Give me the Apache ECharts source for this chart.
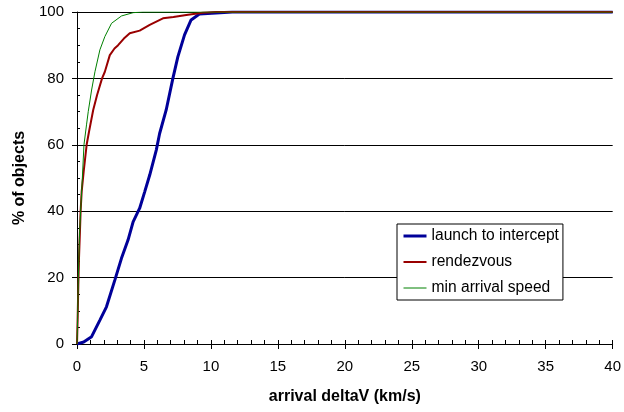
<!DOCTYPE html>
<html><head><meta charset="utf-8">
<script src="https://cdn.jsdelivr.net/npm/echarts@6/dist/echarts.min.js"></script>
<style>html,body{margin:0;padding:0;background:#fff}#c{width:624px;height:412px}</style>
</head><body><div id="c"></div>
<script>
const seriesNames = ['launch to intercept', 'rendezvous', 'min arrival speed'];
const launchX = [0, 0.1, 0.5, 1.09, 1.71, 2.2, 2.83, 3.32, 3.81, 4.19, 4.68, 5.06, 5.43, 5.92, 6.17, 6.66, 7.16, 7.53, 8.03, 8.52, 9.14, 10.38, 11.6, 40];
const launchY = [0, 0.2, 0.6, 2.2, 7.2, 11.2, 19.3, 25.8, 31.3, 36.8, 40.9, 45.9, 50.9, 58.4, 63.4, 70.5, 80, 86.5, 93.1, 97.6, 99.4, 99.7, 100, 100];
const rendX = [0, 0.05, 0.1, 0.15, 0.22, 0.27, 0.35, 0.5, 0.72, 0.9, 1.21, 1.5, 1.87, 2.08, 2.45, 2.8, 3.07, 3.5, 3.94, 4.68, 5.43, 6.42, 7.2, 8.16, 9.39, 10.4, 40];
const rendY = [0, 8, 18, 26, 34, 40, 46, 52, 60, 64, 70.5, 75, 80, 82, 87, 89, 90, 92, 93.6, 94.4, 96.1, 98.1, 98.5, 99.1, 99.8, 100, 100];
const minX = [0, 0.05, 0.1, 0.18, 0.27, 0.4, 0.52, 0.71, 0.84, 1.09, 1.34, 1.71, 2.08, 2.58, 3.32, 4.19, 4.9, 40];
const minY = [0, 8, 20, 32, 40, 50, 60, 66, 70, 76.5, 82, 88.6, 92.6, 96.6, 98.8, 99.8, 100, 100];
const xTitle = 'arrival deltaV (km/s)';
const yTitle = '% of objects';

const colors = ['#000099', '#990000', '#008000'];
const widths = [3, 2, 1];
const pair = (xs, ys) => xs.map((x, i) => [x, ys[i]]);
const font = 'Liberation Sans, Arial, sans-serif';
const chart = echarts.init(document.getElementById('c'), null, {renderer: 'canvas'});
chart.setOption({
  animation: false,
  backgroundColor: '#fff',
  grid: {left: 77, right: 9, top: 12, bottom: 68, containLabel: false},
  legend: {
    orient: 'vertical', left: 397, top: 224,
    backgroundColor: '#fff', borderColor: '#000', borderWidth: 1,
    padding: [4, 4, 4, 5], itemGap: 10, itemWidth: 23, itemHeight: 16,
    itemStyle: {opacity: 0},
    textStyle: {fontFamily: font, fontSize: 15.6, color: '#000', lineHeight: 16},
    data: seriesNames.map((n, i) => ({name: n, lineStyle: {color: colors[i], width: widths[i]}}))
  },
  xAxis: [{
    type: 'value', min: 0, max: 40, interval: 5, position: 'bottom',
    name: xTitle, nameLocation: 'middle', nameGap: 45,
    nameTextStyle: {fontFamily: font, fontSize: 16, fontWeight: 'bold', color: '#000'},
    axisLine: {lineStyle: {color: '#000', width: 1}},
    axisTick: {show: true, length: 5, lineStyle: {color: '#000'}},
    axisLabel: {fontFamily: font, fontSize: 15, color: '#000', margin: 15},
    splitLine: {show: false}
  }, {
    type: 'value', min: 0, max: 40, interval: 5, position: 'bottom',
    axisLine: {show: false},
    axisTick: {show: true, inside: true, length: 4, lineStyle: {color: '#000'}},
    minorTick: {show: true, splitNumber: 5, length: 4, lineStyle: {color: '#000'}},
    axisLabel: {show: false}, splitLine: {show: false}
  }],
  yAxis: [{
    type: 'value', min: 0, max: 100, interval: 20, position: 'left',
    name: yTitle, nameLocation: 'middle', nameGap: 49,
    nameTextStyle: {fontFamily: font, fontSize: 16, fontWeight: 'bold', color: '#000'},
    axisLine: {show: true, lineStyle: {color: '#000', width: 1}},
    axisTick: {show: true, length: 5, lineStyle: {color: '#000'}},
    axisLabel: {fontFamily: font, fontSize: 15, color: '#000', margin: 13},
    splitLine: {show: true, lineStyle: {color: '#000', width: 1}}
  }, {
    type: 'value', min: 0, max: 100, interval: 20, position: 'left',
    axisLine: {show: false},
    axisTick: {show: true, inside: true, length: 3, lineStyle: {color: '#000'}},
    minorTick: {show: true, splitNumber: 4, length: 3, lineStyle: {color: '#000'}},
    axisLabel: {show: false}, splitLine: {show: false}
  }],
  series: [
    {name: seriesNames[0], type: 'line', xAxisIndex: 0, yAxisIndex: 0, symbol: 'none', z: 3,
     lineStyle: {color: colors[0], width: widths[0]}, itemStyle: {color: colors[0]}, data: pair(launchX, launchY)},
    {name: seriesNames[1], type: 'line', xAxisIndex: 0, yAxisIndex: 0, symbol: 'none', z: 4,
     lineStyle: {color: colors[1], width: widths[1]}, itemStyle: {color: colors[1]}, data: pair(rendX, rendY)},
    {name: seriesNames[2], type: 'line', xAxisIndex: 0, yAxisIndex: 0, symbol: 'none', z: 5,
     lineStyle: {color: colors[2], width: widths[2]}, itemStyle: {color: colors[2]}, data: pair(minX, minY)}
  ]
});
</script></body></html>
